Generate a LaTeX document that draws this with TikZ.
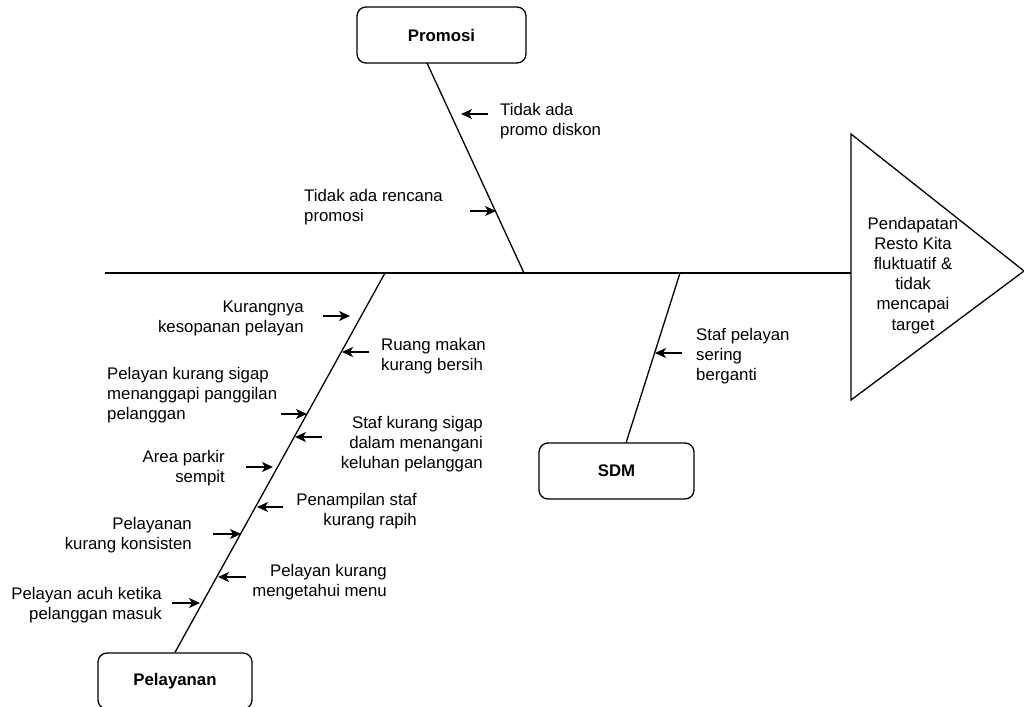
\documentclass[tikz,border=0pt]{standalone}
\usepackage{fontspec}
\setmainfont{Liberation Sans}
\usetikzlibrary{arrows.meta}
\newcommand{\fsz}{\fontsize{16.8}{20.2}\selectfont}
\begin{document}
\begin{tikzpicture}[x=1pt,y=-1pt,
  bone/.style={line width=1.3pt},
  cause/.style={-{Stealth[length=11pt,width=10pt,inset=3pt]},line width=1.4pt},
  catbox/.style={draw,rounded corners=9pt,line width=1.3pt,minimum height=56pt,font=\bfseries\fsz,inner sep=0pt},
  lbl/.style={inner sep=0pt,font=\fsz}]
\useasboundingbox (0,0) rectangle (1024,706);
% boxes
\node[catbox,minimum width=169pt] (promosi) at (441.5,35) {Promosi};
\node[catbox,minimum width=154pt] (pelayanan) at (175,681) {Pelayanan};
\node[catbox,minimum width=155pt] (sdm) at (616.5,471) {SDM};
% effect triangle
\coordinate (tA) at (851,134);
\coordinate (tB) at (1024,271);
\coordinate (tC) at (851,400);
\draw[bone] (tA) -- (tB) -- (tC) -- cycle;
\node[lbl,align=center,anchor=base] (effect) at (913,330) {Pendapatan\\Resto Kita\\fluktuatif \&\\tidak\\mencapai\\target};
% spine
\coordinate (s0) at (105,273);
\coordinate (s1) at (851,273);
\draw[bone] (s0) -- (s1);
% bones
\coordinate (pb1) at (427,63);
\coordinate (pb2) at (524,273);
\draw[bone] (pb1) -- (pb2);
\coordinate (lb1) at (385,273);
\draw[bone] (lb1) -- (pelayanan.north);
\coordinate (sb1) at (680,273);
\coordinate (sb2) at (626,443);
\draw[bone] (sb1) -- (sb2);
% labels (anchor base = baseline of last line)
\node[lbl,align=left,anchor=base west] (t1) at (500,135.2) {Tidak ada\\promo diskon};
\node[lbl,align=left,anchor=base west] (t2) at (304,221.2) {Tidak ada rencana\\promosi};
\node[lbl,align=right,anchor=base east] (t3) at (304,332.2) {Kurangnya\\kesopanan pelayan};
\node[lbl,align=left,anchor=base west] (t4) at (381,370.2) {Ruang makan\\kurang bersih};
\node[lbl,align=left,anchor=base west] (t5) at (107,419.4) {Pelayan kurang sigap\\menanggapi panggilan\\pelanggan};
\node[lbl,align=right,anchor=base east] (t6) at (483,468.4) {Staf kurang sigap\\dalam menangani\\keluhan pelanggan};
\node[lbl,align=right,anchor=base east] (t7) at (225,482.2) {Area parkir\\sempit};
\node[lbl,align=right,anchor=base east] (t8) at (417,525.2) {Penampilan staf\\kurang rapih};
\node[lbl,align=right,anchor=base east] (t9) at (192,549.2) {Pelayanan\\kurang konsisten};
\node[lbl,align=right,anchor=base east] (t10) at (387,596.2) {Pelayan kurang\\mengetahui menu};
\node[lbl,align=right,anchor=base east] (t11) at (162,619.2) {Pelayan acuh ketika\\pelanggan masuk};
\node[lbl,align=left,anchor=base west] (t12) at (696,380.4) {Staf pelayan\\sering\\berganti};
% cause arrows
\coordinate (a1s) at (488,114); \coordinate (a1e) at (461,114);
\coordinate (a2s) at (470,211); \coordinate (a2e) at (496,211);
\coordinate (a3s) at (323,316); \coordinate (a3e) at (350,316);
\coordinate (a4s) at (369,352); \coordinate (a4e) at (342,352);
\coordinate (a5s) at (281,414); \coordinate (a5e) at (307,414);
\coordinate (a6s) at (322,437); \coordinate (a6e) at (295,437);
\coordinate (a7s) at (246,467); \coordinate (a7e) at (273,467);
\coordinate (a8s) at (283,507); \coordinate (a8e) at (257,507);
\coordinate (a9s) at (213,534); \coordinate (a9e) at (241,534);
\coordinate (a10s) at (246,577); \coordinate (a10e) at (218,577);
\coordinate (a11s) at (172,603); \coordinate (a11e) at (200,603);
\coordinate (a12s) at (682,353); \coordinate (a12e) at (655,353);
\foreach \i in {1,...,12} {\draw[cause] (a\i s) -- (a\i e);}
\end{tikzpicture}
\end{document}
